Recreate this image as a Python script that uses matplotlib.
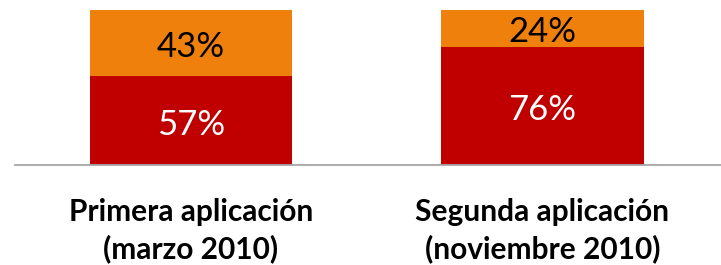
import matplotlib
matplotlib.use("Agg")
import matplotlib.pyplot as plt

categories = ["Primera aplicación\n(marzo 2010)", "Segunda aplicación\n(noviembre 2010)"]
bottom_vals = [57, 76]
top_vals = [43, 24]

red = "#C00000"
orange = "#F0800C"

fig = plt.figure(figsize=(7.21, 2.65), dpi=100)
ax = fig.add_axes([15 / 721, 100.3 / 265, 706 / 721, 155.2 / 265])

x = [0, 1]
ax.bar(x, bottom_vals, width=0.575, color=red)
ax.bar(x, top_vals, width=0.575, bottom=bottom_vals, color=orange)

for i in range(len(x)):
    ax.annotate(f"{bottom_vals[i]}%", (x[i], bottom_vals[i] / 2), xytext=(0, -3),
                textcoords="offset points", ha="center", va="center",
                color="white", fontsize=25, family="Lato")
    ax.annotate(f"{top_vals[i]}%", (x[i], bottom_vals[i] + top_vals[i] / 2), xytext=(0, -3),
                textcoords="offset points", ha="center", va="center",
                color="black", fontsize=25, family="Lato")

ax.set_xlim(-0.501, 1.508)
ax.set_ylim(0, 100)
ax.set_xticks(x)
ax.set_xticklabels(categories, fontsize=21.5, fontweight="bold", family="Lato", linespacing=1.35)
ax.tick_params(axis="x", length=0, pad=24)
ax.set_yticks([])
for s in ["top", "left", "right"]:
    ax.spines[s].set_visible(False)
ax.spines["bottom"].set_color("#A6A6A6")
ax.spines["bottom"].set_linewidth(1.3)

fig.savefig("out.png", dpi=100)
